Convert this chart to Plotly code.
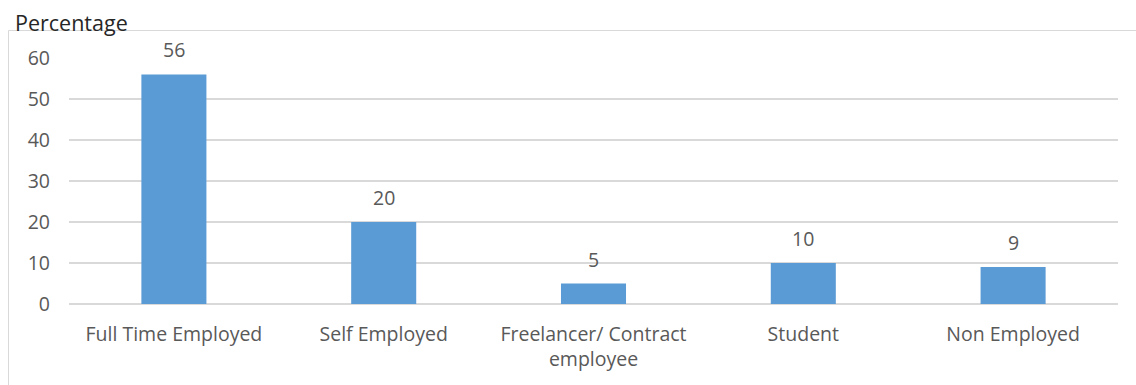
import plotly.graph_objects as go

categories = ["Full Time Employed", "Self Employed", "Freelancer/ Contract<br>employee", "Student", "Non Employed"]
values = [56, 20, 5, 10, 9]
y_ticks = [0, 10, 20, 30, 40, 50, 60]

W, H = 1136, 385
L, R, T, B = 69, 18, 58, 81
plot_w = W - L - R
plot_h = H - T - B

def px_x(px):
    return (px - L) / plot_w

def px_y(py):
    return (H - B - py) / plot_h

font_family = "Open Sans"
text_color = "#595959"
grid_color = "#D9D9D9"
bar_color = "#5B9BD5"

fig = go.Figure()
fig.add_trace(go.Bar(
    x=categories,
    y=values,
    marker=dict(color=bar_color, line=dict(width=0)),
    width=0.31,
    hoverinfo="x+y",
))

# value labels above each bar
for c, v in zip(categories, values):
    fig.add_annotation(
        x=c, y=v, text=str(v), showarrow=False,
        yanchor="bottom", yshift=9,
        font=dict(family=font_family, size=19.5, color=text_color),
    )

# chart title
fig.add_annotation(
    xref="paper", yref="paper", x=px_x(13), y=px_y(22),
    xanchor="left", yanchor="middle", text="Percentage", showarrow=False,
    font=dict(family=font_family, size=21.5, color="#262626"),
)

# outer chart frame
fig.add_shape(
    type="rect", xref="paper", yref="paper",
    x0=px_x(8.5), x1=px_x(W + 20), y0=px_y(H + 20), y1=px_y(30.5),
    line=dict(color=grid_color, width=1), fillcolor="rgba(0,0,0,0)", layer="above",
)

fig.update_layout(
    width=W, height=H,
    margin=dict(l=L, r=R, t=T, b=B, autoexpand=False),
    paper_bgcolor="white", plot_bgcolor="white",
    showlegend=False,
    font=dict(family=font_family, size=19.5, color=text_color),
    bargap=0.69,
)
fig.update_xaxes(
    showgrid=False, showline=False, zeroline=False, ticks="",
    tickfont=dict(family=font_family, size=19.5, color=text_color),
    ticklabelstandoff=16,
)
fig.update_yaxes(
    range=[0, 60], tickvals=y_ticks, showgrid=True, gridcolor=grid_color, gridwidth=1.5,
    zeroline=True, zerolinecolor=grid_color, zerolinewidth=1.5, showline=False, ticks="",
    tickfont=dict(family=font_family, size=19.5, color=text_color),
    ticklabelstandoff=18,
)

fig.write_html("out.html")
